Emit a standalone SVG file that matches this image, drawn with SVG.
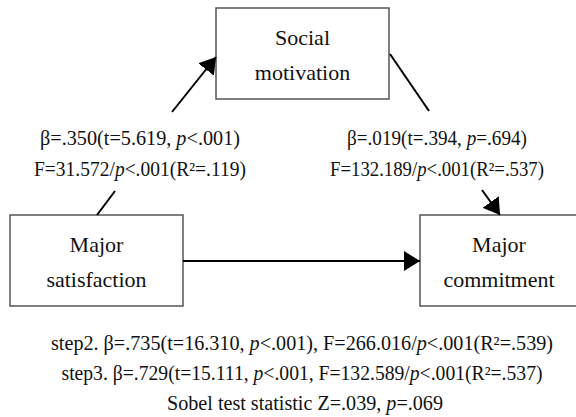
<svg xmlns="http://www.w3.org/2000/svg" width="576" height="417" viewBox="0 0 576 417">
<defs>
<style>
.box{fill:#fff;stroke:#555;stroke-width:1.5}
text{font-family:'Liberation Serif','DejaVu Serif',serif;fill:#111;text-anchor:middle}
.n{font-size:22px}
.l{font-size:20px}
.it{font-style:italic}
.ln{stroke:#000;stroke-width:2;fill:none}
</style>
<marker id="ah" viewBox="0 0 16 20" refX="16" refY="10" markerWidth="16" markerHeight="20" markerUnits="userSpaceOnUse" orient="auto">
<path d="M0,0 L16,10 L0,20 Z" fill="#000"/>
</marker>
</defs>
<rect width="576" height="417" fill="#fff"/>
<g id="social-motivation" font-family="Liberation Serif, serif">
<rect class="box" x="216" y="8" width="173" height="91"/>
<text class="n" x="302.5" y="45">Social</text>
<text class="n" x="302.5" y="80">motivation</text>
</g>
<g id="major-satisfaction" font-family="Liberation Serif, serif">
<rect class="box" x="10" y="215" width="173" height="91"/>
<text class="n" x="96.5" y="252">Major</text>
<text class="n" x="96.5" y="287">satisfaction</text>
</g>
<g id="major-commitment" font-family="Liberation Serif, serif">
<rect class="box" x="420" y="215" width="170" height="91"/>
<text class="n" x="499" y="252">Major</text>
<text class="n" x="499" y="287">commitment</text>
</g>
<g id="connectors">
<line class="ln" x1="97" y1="215" x2="115" y2="191"/>
<line class="ln" x1="172" y1="112" x2="216" y2="57" marker-end="url(#ah)"/>
<line class="ln" x1="390" y1="54" x2="429" y2="111"/>
<line class="ln" x1="482" y1="190" x2="500" y2="215" marker-end="url(#ah)"/>
<line class="ln" x1="183" y1="261" x2="420" y2="261" marker-end="url(#ah)"/>
</g>
<g id="labels" font-family="Liberation Serif, serif">
<text class="l" x="140" y="145" textLength="200" lengthAdjust="spacingAndGlyphs">β=.350(t=5.619, <tspan class="it">p</tspan>&lt;.001)</text>
<text class="l" x="140" y="176" textLength="212" lengthAdjust="spacingAndGlyphs">F=31.572/<tspan class="it">p</tspan>&lt;.001(R²=.119)</text>
<text class="l" x="437" y="145" textLength="180" lengthAdjust="spacingAndGlyphs">β=.019(t=.394, <tspan class="it">p</tspan>=.694)</text>
<text class="l" x="437" y="176" textLength="214" lengthAdjust="spacingAndGlyphs">F=132.189/<tspan class="it">p</tspan>&lt;.001(R²=.537)</text>
<text class="l" x="302" y="350" textLength="502" lengthAdjust="spacingAndGlyphs">step2. β=.735(t=16.310, <tspan class="it">p</tspan>&lt;.001), F=266.016/<tspan class="it">p</tspan>&lt;.001(R²=.539)</text>
<text class="l" x="302" y="380" textLength="481" lengthAdjust="spacingAndGlyphs">step3. β=.729(t=15.111, <tspan class="it">p</tspan>&lt;.001, F=132.589/<tspan class="it">p</tspan>&lt;.001(R²=.537)</text>
<text class="l" x="305" y="410" textLength="276" lengthAdjust="spacingAndGlyphs">Sobel test statistic Z=.039, <tspan class="it">p</tspan>=.069</text>
</g>
</svg>
